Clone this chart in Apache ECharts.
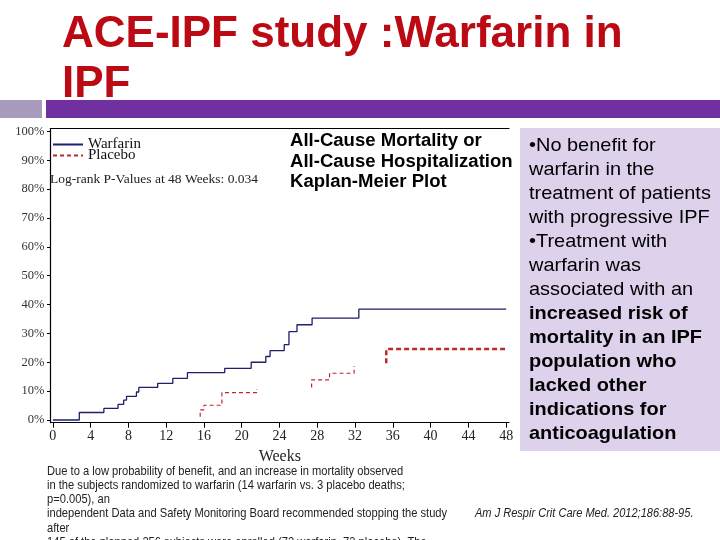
<!DOCTYPE html>
<html>
<head>
<meta charset="utf-8">
<script src="https://cdn.jsdelivr.net/npm/echarts@6/dist/echarts.min.js"></script>
<style>
html,body{margin:0;padding:0;background:#fff;}
#chart{width:720px;height:540px;}
</style>
</head>
<body>
<div id="chart"></div>
<script>
// ---- data ----
const weekTicks = [0, 4, 8, 12, 16, 20, 24, 28, 32, 36, 40, 44, 48];
const pctTicks = [0, 10, 20, 30, 40, 50, 60, 70, 80, 90, 100];
const warfarinWeeks = [0, 2.8, 5.4, 6.9, 7.5, 7.8, 8.85, 9.1, 11.1, 12.7, 14.25, 18.2, 21.0, 22.55, 23.0, 24.5, 25.0, 25.85, 27.45, 32.4, 48];
const warfarinPct   = [0, 2.6, 4.0, 5.4, 6.9, 8.2, 9.7, 11.3, 12.7, 14.4, 16.4, 17.9, 20.0, 22.0, 24.0, 26.1, 30.6, 33.0, 35.3, 38.4, 38.4];
const placeboSeg1Weeks = [15.6, 15.6, 16.0, 17.9, 21.6];
const placeboSeg1Pct   = [1.1, 3.5, 5.1, 9.5, 10.7];
const placeboSeg2Weeks = [27.4, 27.4, 29.3, 31.9];
const placeboSeg2Pct   = [11.3, 13.9, 16.2, 18.7];
const placeboSeg3Weeks = [35.3, 35.3, 47.9];
const placeboSeg3Pct   = [19.7, 24.6, 24.6];

const pairs = (xs, ys) => xs.map((x, i) => [x, ys[i]]);

const chart = echarts.init(document.getElementById('chart'), null, {renderer: 'canvas'});

const serif = 'Liberation Serif';
const warfColor = '#1f1f6b';
const plaColor = '#c0272d';

const panelLines = [
  ['•No benefit for', false],
  ['warfarin in the', false],
  ['treatment of patients', false],
  ['with progressive IPF', false],
  ['•Treatment with', false],
  ['warfarin was', false],
  ['associated with an', false],
  ['increased risk of', true],
  ['mortality in an IPF', true],
  ['population who', true],
  ['lacked other', true],
  ['indications for', true],
  ['anticoagulation', true]
];
const noteLines = [
  'Due to a low probability of benefit, and an increase in mortality observed',
  'in the subjects randomized to warfarin (14 warfarin vs. 3 placebo deaths;',
  'p=0.005), an',
  'independent Data and Safety Monitoring Board recommended stopping the study',
  'after',
  '145 of the planned 256 subjects were enrolled (72 warfarin, 73 placebo). The'
];
const chartTitleLines = ['All-Cause Mortality or', 'All-Cause Hospitalization', 'Kaplan-Meier Plot'];

const graphics = [];
// title
graphics.push({type: 'text', left: 62, top: 13, z: 1, style: {text: 'ACE-IPF study :Warfarin in', font: 'bold 44px "Liberation Sans"', fill: '#bb0a14'}});
graphics.push({type: 'text', left: 62, top: 63, z: 1, style: {text: 'IPF', font: 'bold 44px "Liberation Sans"', fill: '#bb0a14'}});
// bars
graphics.push({type: 'rect', shape: {x: 0, y: 100, width: 42, height: 18}, z: 5, style: {fill: '#a99bbd'}});
graphics.push({type: 'rect', shape: {x: 46, y: 100, width: 674, height: 18}, z: 5, style: {fill: '#7030a0'}});
// right panel
graphics.push({type: 'rect', shape: {x: 520, y: 128, width: 200, height: 323}, z: 1, style: {fill: '#ddd1ec'}});
panelLines.forEach((l, i) => {
  graphics.push({type: 'text', x: 529, y: 146 + 24 * i, scaleX: 1.05, z: 2, style: {text: l[0], font: (l[1] ? 'bold ' : '') + '19px "Liberation Sans"', fill: '#000', verticalAlign: 'middle'}});
});
// chart heading
chartTitleLines.forEach((t, i) => {
  graphics.push({type: 'text', x: 290, y: 141.5 + 20.5 * i, scaleX: 1.06, z: 2, style: {text: t, font: 'bold 17.5px "Liberation Sans"', fill: '#000', verticalAlign: 'middle'}});
});
// log-rank
graphics.push({type: 'text', x: 50, y: 179, z: 2, style: {text: 'Log-rank P-Values at 48 Weeks: 0.034', font: '13.5px "Liberation Serif"', fill: '#222', verticalAlign: 'middle'}});
// note
noteLines.forEach((t, i) => {
  graphics.push({type: 'text', x: 47, y: 471 + 14.3 * i, scaleX: 0.857, z: 2, style: {text: t, font: '13px "Liberation Sans"', fill: '#222', verticalAlign: 'middle'}});
});
graphics.push({type: 'text', x: 475, y: 514, scaleX: 0.92, z: 2, style: {text: 'Am J Respir Crit Care Med. 2012;186:88-95.', font: 'italic 12px "Liberation Sans"', fill: '#222', verticalAlign: 'middle'}});

const option = {
  backgroundColor: '#fff',
  animation: false,
  grid: {left: 50.5, top: 128.5, right: 211, bottom: 117.3, containLabel: false},
  legend: {
    data: ['Warfarin', 'Placebo'],
    orient: 'vertical',
    left: 52, top: 137,
    itemWidth: 30, itemHeight: 10, itemGap: -4,
    padding: 0,
    itemStyle: {opacity: 0},
    textStyle: {fontFamily: serif, fontSize: 15, color: '#111'}
  },
  xAxis: [{
    type: 'value', min: -0.25, max: 48.3,
    name: 'Weeks', nameLocation: 'middle', nameGap: 24,
    nameTextStyle: {fontFamily: serif, fontSize: 16, color: '#222'},
    axisLine: {show: true, onZero: false, lineStyle: {color: '#000', width: 1.2}},
    axisTick: {show: true, length: 5, customValues: weekTicks, lineStyle: {color: '#000'}},
    axisLabel: {customValues: weekTicks, fontFamily: serif, fontSize: 14, color: '#222', margin: 7},
    splitLine: {show: false}
  }, {
    type: 'value', min: -0.25, max: 48.3, position: 'top',
    axisLine: {show: true, onZero: false, lineStyle: {color: '#000', width: 1.2}},
    axisTick: {show: false}, axisLabel: {show: false}, splitLine: {show: false}
  }],
  yAxis: {
    type: 'value', min: -0.94, max: 101,
    axisLine: {show: true, onZero: false, lineStyle: {color: '#000', width: 1.2}},
    axisTick: {show: true, length: 3.5, customValues: pctTicks, lineStyle: {color: '#000'}},
    axisLabel: {customValues: pctTicks, formatter: v => Math.round(v) + '%', fontFamily: serif, fontSize: 12.5, color: '#333', margin: 6},
    splitLine: {show: false}
  },
  series: [{
    name: 'Warfarin', type: 'line', step: 'end', symbol: 'none',
    lineStyle: {color: warfColor, width: 1.3}, itemStyle: {color: warfColor},
    data: pairs(warfarinWeeks, warfarinPct)
  }, {
    name: 'Placebo', type: 'line', step: 'end', symbol: 'none',
    lineStyle: {color: plaColor, width: 1.2, type: [4, 3]}, itemStyle: {color: plaColor},
    data: pairs(placeboSeg1Weeks, placeboSeg1Pct)
  }, {
    name: 'Placebo', type: 'line', step: 'end', symbol: 'none',
    lineStyle: {color: plaColor, width: 1.2, type: [4, 3]}, itemStyle: {color: plaColor},
    data: pairs(placeboSeg2Weeks, placeboSeg2Pct)
  }, {
    name: 'Placebo', type: 'line', step: 'end', symbol: 'none',
    lineStyle: {color: plaColor, width: 2.5, type: [5, 3]}, itemStyle: {color: plaColor},
    data: pairs(placeboSeg3Weeks, placeboSeg3Pct)
  }],
  graphic: graphics
};
chart.setOption(option);
</script>
</body>
</html>
